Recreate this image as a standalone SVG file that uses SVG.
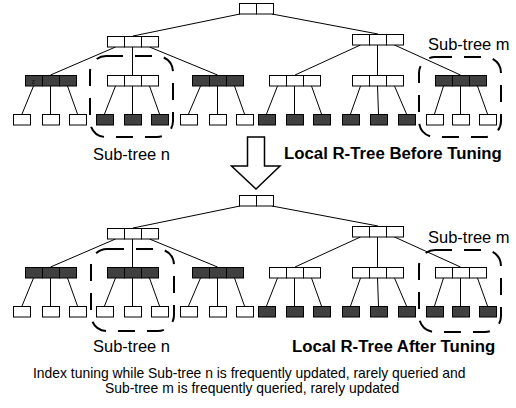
<svg xmlns="http://www.w3.org/2000/svg" width="516" height="408" viewBox="0 0 516 408">
<defs>
<style>
.c{stroke:#000;stroke-width:1}
.w{fill:#fff}
.d{fill:#404040}
.e{stroke:#000;stroke-width:1;fill:none}
.dash{fill:none;stroke:#000;stroke-width:2;stroke-dasharray:17 12}
.lab{font-family:"Liberation Sans",Arial,sans-serif;font-size:16.5px;fill:#000}
.b{font-weight:bold;font-size:16.8px}
.cap{font-family:"Liberation Sans",Arial,sans-serif;font-size:13.9px;fill:#000}
</style>
</defs>
<rect width="516" height="408" fill="#fff"/>

<!-- connectors -->
<g id="connectors" class="e">
<!-- top tree -->
<line x1="240" y1="14" x2="133" y2="36"/>
<line x1="272" y1="14" x2="378" y2="34"/>
<line x1="115.5" y1="47" x2="50.5" y2="75"/>
<line x1="132.5" y1="47" x2="132.5" y2="75"/>
<line x1="149.5" y1="47" x2="217.5" y2="75"/>
<line x1="360.5" y1="45" x2="295" y2="75"/>
<line x1="377.5" y1="45" x2="377.5" y2="75"/>
<line x1="394.5" y1="45" x2="460.5" y2="75"/>
<line x1="33.5" y1="86" x2="22" y2="114"/><line x1="50.5" y1="86" x2="50.5" y2="114"/><line x1="67.5" y1="86" x2="77.5" y2="114"/>
<line x1="115.5" y1="86" x2="104.5" y2="114"/><line x1="132.5" y1="86" x2="132.5" y2="114"/><line x1="149.5" y1="86" x2="159.5" y2="114"/>
<line x1="200.5" y1="86" x2="188.5" y2="114"/><line x1="217.5" y1="86" x2="217.5" y2="114"/><line x1="234.5" y1="86" x2="244.5" y2="114"/>
<line x1="277.5" y1="86" x2="266.5" y2="114"/><line x1="294.5" y1="86" x2="294.5" y2="114"/><line x1="311.5" y1="86" x2="321.5" y2="114"/>
<line x1="360.5" y1="86" x2="350.5" y2="114"/><line x1="377.5" y1="86" x2="378.5" y2="114"/><line x1="394.5" y1="86" x2="406.5" y2="114"/>
<line x1="443.5" y1="86" x2="434.5" y2="114"/><line x1="460.5" y1="86" x2="460.5" y2="114"/><line x1="477.5" y1="86" x2="487.5" y2="114"/>
<!-- bottom tree -->
<g transform="translate(0,192)">
<line x1="240" y1="14" x2="133" y2="36"/>
<line x1="272" y1="14" x2="378" y2="34"/>
<line x1="115.5" y1="47" x2="50.5" y2="75"/>
<line x1="132.5" y1="47" x2="132.5" y2="75"/>
<line x1="149.5" y1="47" x2="217.5" y2="75"/>
<line x1="360.5" y1="45" x2="295" y2="75"/>
<line x1="377.5" y1="45" x2="377.5" y2="75"/>
<line x1="394.5" y1="45" x2="460.5" y2="75"/>
<line x1="33.5" y1="86" x2="22" y2="114"/><line x1="50.5" y1="86" x2="50.5" y2="114"/><line x1="67.5" y1="86" x2="77.5" y2="114"/>
<line x1="115.5" y1="86" x2="104.5" y2="114"/><line x1="132.5" y1="86" x2="132.5" y2="114"/><line x1="149.5" y1="86" x2="159.5" y2="114"/>
<line x1="200.5" y1="86" x2="188.5" y2="114"/><line x1="217.5" y1="86" x2="217.5" y2="114"/><line x1="234.5" y1="86" x2="244.5" y2="114"/>
<line x1="277.5" y1="86" x2="266.5" y2="114"/><line x1="294.5" y1="86" x2="294.5" y2="114"/><line x1="311.5" y1="86" x2="321.5" y2="114"/>
<line x1="360.5" y1="86" x2="350.5" y2="114"/><line x1="377.5" y1="86" x2="378.5" y2="114"/><line x1="394.5" y1="86" x2="406.5" y2="114"/>
<line x1="443.5" y1="86" x2="434.5" y2="114"/><line x1="460.5" y1="86" x2="460.5" y2="114"/><line x1="477.5" y1="86" x2="487.5" y2="114"/>
</g>
</g>

<!-- top tree nodes -->
<g id="t-root" class="c w"><rect x="239.5" y="3.5" width="17" height="10.5"/><rect x="256.5" y="3.5" width="17" height="10.5"/></g>
<g id="t-l1a" class="c w"><rect x="107.5" y="36.5" width="17" height="10.5"/><rect x="124.5" y="36.5" width="17" height="10.5"/><rect x="141.5" y="36.5" width="17" height="10.5"/></g>
<g id="t-l1b" class="c w"><rect x="352.5" y="34.5" width="17" height="10.5"/><rect x="369.5" y="34.5" width="17" height="10.5"/><rect x="386.5" y="34.5" width="17" height="10.5"/></g>
<g id="t-n1" class="c d"><rect x="25.5" y="75.5" width="17" height="10.5"/><rect x="42.5" y="75.5" width="17" height="10.5"/><rect x="59.5" y="75.5" width="17" height="10.5"/></g>
<g id="t-n2" class="c w"><rect x="107.5" y="75.5" width="17" height="10.5"/><rect x="124.5" y="75.5" width="17" height="10.5"/><rect x="141.5" y="75.5" width="17" height="10.5"/></g>
<g id="t-n3" class="c d"><rect x="192.5" y="75.5" width="17" height="10.5"/><rect x="209.5" y="75.5" width="17" height="10.5"/><rect x="226.5" y="75.5" width="17" height="10.5"/></g>
<g id="t-n4" class="c w"><rect x="269.5" y="75.5" width="17" height="10.5"/><rect x="286.5" y="75.5" width="17" height="10.5"/><rect x="303.5" y="75.5" width="17" height="10.5"/></g>
<g id="t-n5" class="c w"><rect x="352.5" y="75.5" width="17" height="10.5"/><rect x="369.5" y="75.5" width="17" height="10.5"/><rect x="386.5" y="75.5" width="17" height="10.5"/></g>
<g id="t-n6" class="c d"><rect x="435.5" y="75.5" width="17" height="10.5"/><rect x="452.5" y="75.5" width="17" height="10.5"/><rect x="469.5" y="75.5" width="17" height="10.5"/></g>
<text x="31.5" y="84" font-family="Liberation Sans,Arial,sans-serif" font-size="7" fill="#111">z</text>
<g id="t-leaves1" class="c w"><rect x="13.5" y="114.5" width="17" height="10.5"/><rect x="42.5" y="114.5" width="17" height="10.5"/><rect x="69.5" y="114.5" width="17" height="10.5"/></g>
<g id="t-leaves2" class="c d"><rect x="96.5" y="114.5" width="17" height="10.5"/><rect x="124.5" y="114.5" width="17" height="10.5"/><rect x="151.5" y="114.5" width="17" height="10.5"/></g>
<g id="t-leaves3" class="c w"><rect x="180.5" y="114.5" width="17" height="10.5"/><rect x="209.5" y="114.5" width="17" height="10.5"/><rect x="236.5" y="114.5" width="17" height="10.5"/></g>
<g id="t-leaves4" class="c d"><rect x="258.5" y="114.5" width="17" height="10.5"/><rect x="286.5" y="114.5" width="17" height="10.5"/><rect x="313.5" y="114.5" width="17" height="10.5"/></g>
<g id="t-leaves5" class="c d"><rect x="342.5" y="114.5" width="17" height="10.5"/><rect x="370.5" y="114.5" width="17" height="10.5"/><rect x="398.5" y="114.5" width="17" height="10.5"/></g>
<g id="t-leaves6" class="c w"><rect x="426.5" y="114.5" width="17" height="10.5"/><rect x="452.5" y="114.5" width="17" height="10.5"/><rect x="479.5" y="114.5" width="17" height="10.5"/></g>

<g id="t-subtree-n"><rect class="dash" x="90" y="56" width="83" height="81" rx="16"/></g>
<g id="t-subtree-m"><rect class="dash" x="419" y="57" width="82" height="80" rx="16"/></g>
<text class="lab" x="428" y="50">Sub-tree m</text>
<text class="lab" x="93" y="160">Sub-tree n</text>
<text class="lab b" x="284" y="159">Local R-Tree Before Tuning</text>

<!-- arrow -->
<g id="arrow"><polygon points="247.5,137 264.5,137 264.5,166 280,166 256,189 231.5,166 247.5,166" fill="#fff" stroke="#000" stroke-width="1.5" stroke-linejoin="miter"/></g>

<!-- bottom tree nodes -->
<g id="b-root" class="c w"><rect x="239.5" y="195.5" width="17" height="10.5"/><rect x="256.5" y="195.5" width="17" height="10.5"/></g>
<g id="b-l1a" class="c w"><rect x="107.5" y="228.5" width="17" height="10.5"/><rect x="124.5" y="228.5" width="17" height="10.5"/><rect x="141.5" y="228.5" width="17" height="10.5"/></g>
<g id="b-l1b" class="c w"><rect x="352.5" y="226.5" width="17" height="10.5"/><rect x="369.5" y="226.5" width="17" height="10.5"/><rect x="386.5" y="226.5" width="17" height="10.5"/></g>
<g id="b-n1" class="c d"><rect x="25.5" y="267.5" width="17" height="10.5"/><rect x="42.5" y="267.5" width="17" height="10.5"/><rect x="59.5" y="267.5" width="17" height="10.5"/></g>
<g id="b-n2" class="c d"><rect x="107.5" y="267.5" width="17" height="10.5"/><rect x="124.5" y="267.5" width="17" height="10.5"/><rect x="141.5" y="267.5" width="17" height="10.5"/></g>
<g id="b-n3" class="c d"><rect x="192.5" y="267.5" width="17" height="10.5"/><rect x="209.5" y="267.5" width="17" height="10.5"/><rect x="226.5" y="267.5" width="17" height="10.5"/></g>
<g id="b-n4" class="c w"><rect x="269.5" y="267.5" width="17" height="10.5"/><rect x="286.5" y="267.5" width="17" height="10.5"/><rect x="303.5" y="267.5" width="17" height="10.5"/></g>
<g id="b-n5" class="c w"><rect x="352.5" y="267.5" width="17" height="10.5"/><rect x="369.5" y="267.5" width="17" height="10.5"/><rect x="386.5" y="267.5" width="17" height="10.5"/></g>
<g id="b-n6" class="c w"><rect x="435.5" y="267.5" width="17" height="10.5"/><rect x="452.5" y="267.5" width="17" height="10.5"/><rect x="469.5" y="267.5" width="17" height="10.5"/></g>
<g id="b-leaves1" class="c w"><rect x="13.5" y="306.5" width="17" height="10.5"/><rect x="42.5" y="306.5" width="17" height="10.5"/><rect x="69.5" y="306.5" width="17" height="10.5"/></g>
<g id="b-leaves2" class="c w"><rect x="96.5" y="306.5" width="17" height="10.5"/><rect x="124.5" y="306.5" width="17" height="10.5"/><rect x="151.5" y="306.5" width="17" height="10.5"/></g>
<g id="b-leaves3" class="c w"><rect x="180.5" y="306.5" width="17" height="10.5"/><rect x="209.5" y="306.5" width="17" height="10.5"/><rect x="236.5" y="306.5" width="17" height="10.5"/></g>
<g id="b-leaves4" class="c d"><rect x="258.5" y="306.5" width="17" height="10.5"/><rect x="286.5" y="306.5" width="17" height="10.5"/><rect x="313.5" y="306.5" width="17" height="10.5"/></g>
<g id="b-leaves5" class="c d"><rect x="342.5" y="306.5" width="17" height="10.5"/><rect x="370.5" y="306.5" width="17" height="10.5"/><rect x="398.5" y="306.5" width="17" height="10.5"/></g>
<g id="b-leaves6" class="c d"><rect x="426.5" y="306.5" width="17" height="10.5"/><rect x="452.5" y="306.5" width="17" height="10.5"/><rect x="479.5" y="306.5" width="17" height="10.5"/></g>

<g id="b-subtree-n"><rect class="dash" x="91" y="249" width="83" height="82" rx="16"/></g>
<g id="b-subtree-m"><rect class="dash" x="419" y="250" width="82" height="82" rx="16"/></g>
<text class="lab" x="428" y="243">Sub-tree m</text>
<text class="lab" x="93" y="352">Sub-tree n</text>
<text class="lab b" x="292" y="352">Local R-Tree After Tuning</text>

<text class="cap" x="33" y="378">Index tuning while Sub-tree n is frequently updated, rarely queried and</text>
<text class="cap" x="105" y="393">Sub-tree m is frequently queried, rarely updated</text>
</svg>
